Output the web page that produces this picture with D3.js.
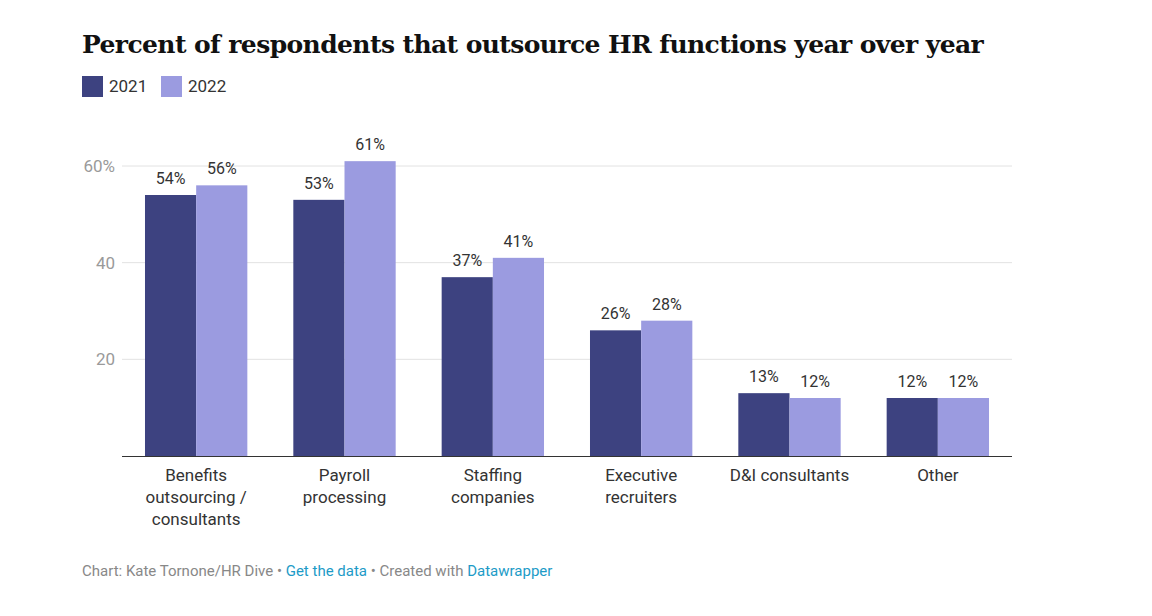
<!DOCTYPE html>
<html><head><meta charset="utf-8">
<script src="https://cdn.jsdelivr.net/npm/d3@7"></script>
<style>
body{margin:0;background:#fff;font-family:Roboto,sans-serif;}
</style></head><body><div id="chart"></div>
<script>
var categories = [["Benefits","outsourcing /","consultants"],["Payroll","processing"],["Staffing","companies"],["Executive","recruiters"],["D&I consultants"],["Other"]];
var series = ["2021","2022"];
var values2021 = [54,53,37,26,13,12];
var values2022 = [56,61,41,28,12,12];
var yTicks = [20,40,60];
var colors = ["#3d4280","#9b9be0"];

var svg = d3.select("#chart").append("svg").attr("width",1152).attr("height",616);

svg.append("text").attr("x",82).attr("y",53)
  .attr("font-family","'DejaVu Serif',serif").attr("font-weight","bold").attr("font-size",25)
  .attr("fill","#111").attr("letter-spacing",-0.6)
  .text("Percent of respondents that outsource HR functions year over year");

var lg = svg.append("g");
var lx = 82;
series.forEach(function(s,i){
  lg.append("rect").attr("x",lx).attr("y",76).attr("width",21).attr("height",21).attr("fill",colors[i]);
  lg.append("text").attr("x",lx+27).attr("y",92).attr("font-size",17).attr("fill","#333").text(s);
  lx += 79;
});

var x0 = d3.scaleBand().domain(d3.range(categories.length)).range([122,1012]).paddingInner(0.31).paddingOuter(0.155);
var x1 = d3.scaleBand().domain([0,1]).range([0,x0.bandwidth()]);
var y = d3.scaleLinear().domain([0,60]).range([456,166]);

var g = svg.append("g");
yTicks.forEach(function(t){
  g.append("line").attr("x1",122).attr("x2",1012).attr("y1",y(t)).attr("y2",y(t)).attr("stroke","#e2e2e2");
  g.append("text").attr("x",115).attr("y",y(t)+6).attr("text-anchor","end").attr("font-size",17).attr("fill","#9a9a9a")
    .text(t===60 ? "60%" : t);
});

[values2021,values2022].forEach(function(vals,si){
  vals.forEach(function(v,i){
    var bx = x0(i)+x1(si);
    g.append("rect").attr("x",bx).attr("y",y(v)).attr("width",x1.bandwidth()).attr("height",y(0)-y(v)).attr("fill",colors[si]);
    g.append("text").attr("x",bx+x1.bandwidth()/2).attr("y",y(v)-11).attr("text-anchor","middle")
      .attr("font-size",16).attr("fill","#333").text(v+"%");
  });
});

g.append("line").attr("x1",122).attr("x2",1012).attr("y1",456.5).attr("y2",456.5).attr("stroke","#333");

categories.forEach(function(lines,i){
  var t = g.append("text").attr("x",x0(i)+x0.bandwidth()/2).attr("y",481).attr("text-anchor","middle")
    .attr("font-size",17).attr("fill","#333");
  lines.forEach(function(l,j){ t.append("tspan").attr("x",x0(i)+x0.bandwidth()/2).attr("dy",j?22:0).text(l); });
});

var f = svg.append("text").attr("x",82).attr("y",576).attr("font-size",15).attr("fill","#888");
f.append("tspan").text("Chart: Kate Tornone/HR Dive • ");
f.append("tspan").attr("fill","#1d9bc7").text("Get the data");
f.append("tspan").text(" • Created with ");
f.append("tspan").attr("fill","#1d9bc7").text("Datawrapper");
</script></body></html>
